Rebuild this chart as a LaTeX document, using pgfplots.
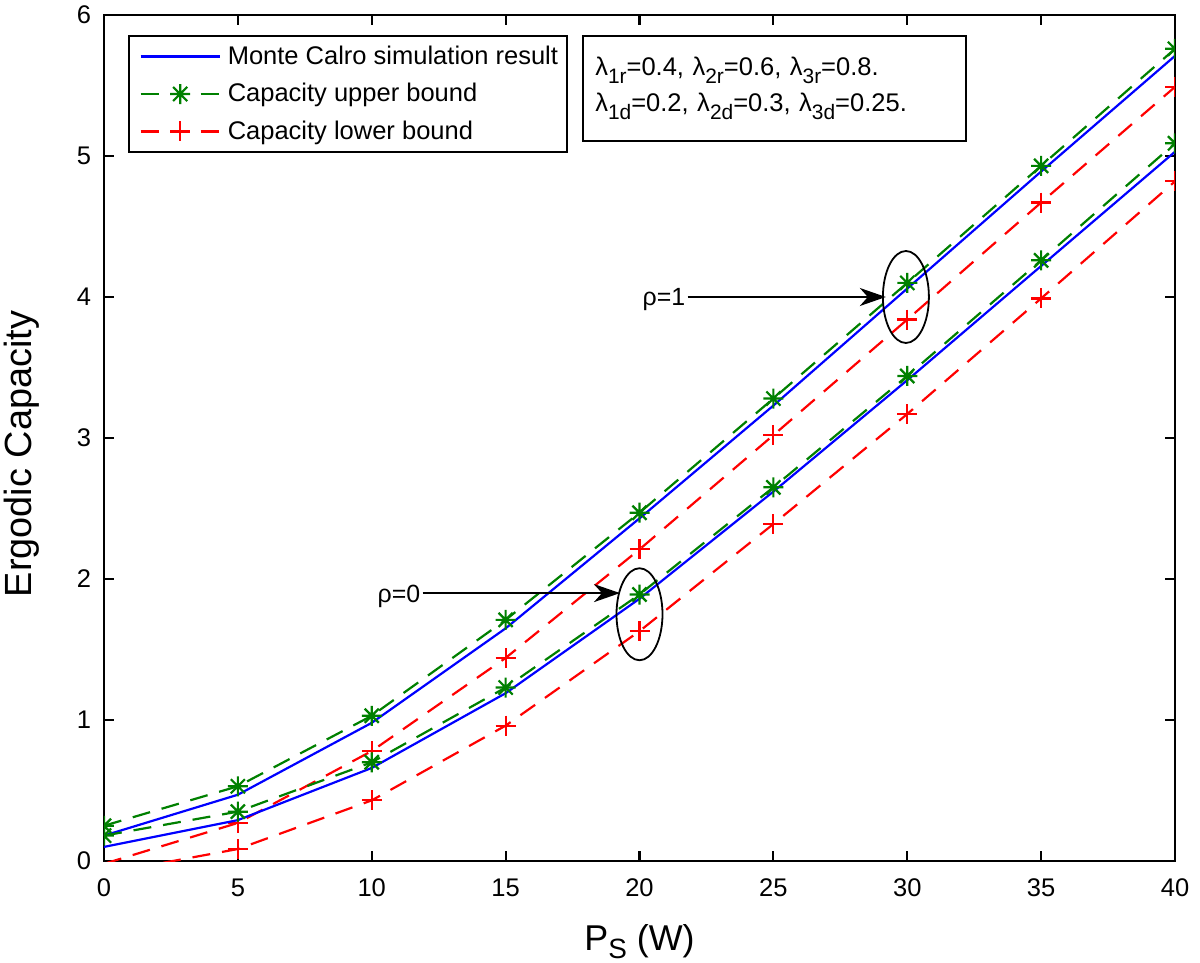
\documentclass[border=0pt]{standalone}
\usepackage{fontspec}
\setmainfont{Liberation Sans}
\usepackage{pgfplots}
\pgfplotsset{compat=1.18}
\usetikzlibrary{arrows.meta}
\definecolor{mblue}{rgb}{0,0,1}
\definecolor{mgreen}{rgb}{0,0.5,0}
\definecolor{mred}{rgb}{1,0,0}
\pgfdeclareplotmark{mstar}{%
  \pgfpathmoveto{\pgfqpoint{-\pgfplotmarksize}{0pt}}\pgfpathlineto{\pgfqpoint{\pgfplotmarksize}{0pt}}%
  \pgfpathmoveto{\pgfqpoint{0pt}{-\pgfplotmarksize}}\pgfpathlineto{\pgfqpoint{0pt}{\pgfplotmarksize}}%
  \pgfpathmoveto{\pgfqpoint{-0.707\pgfplotmarksize}{-0.707\pgfplotmarksize}}\pgfpathlineto{\pgfqpoint{0.707\pgfplotmarksize}{0.707\pgfplotmarksize}}%
  \pgfpathmoveto{\pgfqpoint{-0.707\pgfplotmarksize}{0.707\pgfplotmarksize}}\pgfpathlineto{\pgfqpoint{0.707\pgfplotmarksize}{-0.707\pgfplotmarksize}}%
  \pgfusepathqstroke}
\pgfplotstableread{
x   mc1   ub1   lb1   mc0   ub0   lb0
0   0.18  0.25  -0.02 0.10  0.18  -0.09
5   0.47  0.53  0.27  0.29  0.35  0.085
10  0.98  1.03  0.78  0.66  0.70  0.43
15  1.65  1.71  1.44  1.19  1.23  0.96
20  2.43  2.47  2.21  1.86  1.89  1.63
25  3.23  3.28  3.02  2.62  2.65  2.39
30  4.06  4.10  3.84  3.41  3.44  3.17
35  4.89  4.93  4.67  4.22  4.26  3.99
40  5.71  5.76  5.49  5.03  5.09  4.82
}\datatable
\begin{document}
\begin{tikzpicture}
\useasboundingbox (-52bp,-51bp) rectangle (548bp,430.5bp);
\begin{axis}[
  at={(0,0)}, anchor=south west,
  scale only axis, width=535.5bp, height=423bp,
  xmin=0, xmax=40, ymin=0, ymax=6,
  xtick={0,5,...,40}, ytick={0,1,...,6},
  xtick pos=both, ytick pos=both,
  tick align=inside, major tick length=5bp,
  axis line style={line width=1.1bp},
  every tick/.style={line width=1.1bp, black},
  /pgf/number format/assume math mode=true,
  tick label style={font=\fontsize{12.8}{14}\selectfont},
  xticklabel style={yshift=-5.5bp},
  yticklabel style={xshift=-3bp},
  xlabel={\fontsize{18}{20}\selectfont P\raisebox{-0.45ex}{\fontsize{14}{14}\selectfont S} (W)},
  ylabel={\fontsize{19}{21}\selectfont Ergodic Capacity},
  every axis x label/.style={at={(axis description cs:0.5,0)}, anchor=base, yshift=-44.5bp},
  every axis y label/.style={at={(axis description cs:-0.0766,0.481)}, rotate=90, anchor=center},
  clip marker paths=true,
  legend cell align=left,
  legend style={at={(rel axis cs:0.0224,0.9763)}, anchor=north west,
    font=\fontsize{12.8}{15}\selectfont, line width=0.8bp, draw=black,
    inner xsep=2.5bp, inner ysep=3bp, row sep=4bp,
    /tikz/every odd column/.append style={column sep=1.5bp}},
  legend image code/.code={\node[inner sep=0pt, minimum size=0pt, draw=none, fill=none] at (-4bp,0bp) {};\draw[#1, mark repeat=2, mark phase=2] plot coordinates {(0bp,0bp) (19.75bp,0bp) (39.5bp,0bp)};},
]
\addplot[mblue, line width=1.1bp, no markers] table[x=x,y=mc1] {\datatable};
\addlegendentry{Monte Calro simulation result}
\addplot[mgreen, line width=1.1bp, dash pattern=on 9bp off 6bp, mark=mstar, mark size=5bp, mark options={solid}] table[x=x,y=ub1] {\datatable};
\addlegendentry{Capacity upper bound}
\addplot[mred, line width=1.1bp, dash pattern=on 9bp off 6bp, mark=+, mark size=5bp, mark options={solid}] table[x=x,y=lb1] {\datatable};
\addlegendentry{Capacity lower bound}
\addplot[mblue, line width=1.1bp, no markers, forget plot] table[x=x,y=mc0] {\datatable};
\addplot[mgreen, line width=1.1bp, dash pattern=on 9bp off 6bp, mark=mstar, mark size=5bp, mark options={solid}, forget plot] table[x=x,y=ub0] {\datatable};
\addplot[mred, line width=1.1bp, dash pattern=on 9bp off 6bp, mark=+, mark size=5bp, mark options={solid}, forget plot] table[x=x,y=lb0] {\datatable};
% annotations
\draw[line width=0.9bp] (axis cs:29.95,4.0) ellipse [x radius=11.5bp, y radius=23bp];
\draw[line width=0.9bp] (axis cs:20.0,1.75) ellipse [x radius=11.5bp, y radius=23bp];
\draw[line width=0.9bp, -{Stealth[length=13bp,width=9bp,inset=4bp]}] (axis cs:21.8,4.0) -- (axis cs:29.2,4.0);
\draw[line width=0.9bp, -{Stealth[length=13bp,width=9bp,inset=4bp]}] (axis cs:11.9,1.90) -- (axis cs:19.27,1.90);
\node[anchor=east, inner sep=1bp, font=\fontsize{12.5}{14}\selectfont] at (axis cs:21.8,3.98) {ρ=1};
\node[anchor=east, inner sep=1bp, font=\fontsize{12.5}{14}\selectfont] at (axis cs:11.9,1.88) {ρ=0};
\node[draw=black, line width=0.8bp, anchor=north west, minimum width=191.5bp, minimum height=52.5bp,
  align=left, inner xsep=6bp, font=\fontsize{12.8}{18.5}\selectfont, text width=179bp]
  at (rel axis cs:0.4463,0.9763)
  {λ\raisebox{-0.6ex}{\fontsize{10.5}{10.5}\selectfont 1r}=0.4, λ\raisebox{-0.6ex}{\fontsize{10.5}{10.5}\selectfont 2r}=0.6, λ\raisebox{-0.6ex}{\fontsize{10.5}{10.5}\selectfont 3r}=0.8.\\
   λ\raisebox{-0.6ex}{\fontsize{10.5}{10.5}\selectfont 1d}=0.2, λ\raisebox{-0.6ex}{\fontsize{10.5}{10.5}\selectfont 2d}=0.3, λ\raisebox{-0.6ex}{\fontsize{10.5}{10.5}\selectfont 3d}=0.25.};
\end{axis}
\end{tikzpicture}
\end{document}
